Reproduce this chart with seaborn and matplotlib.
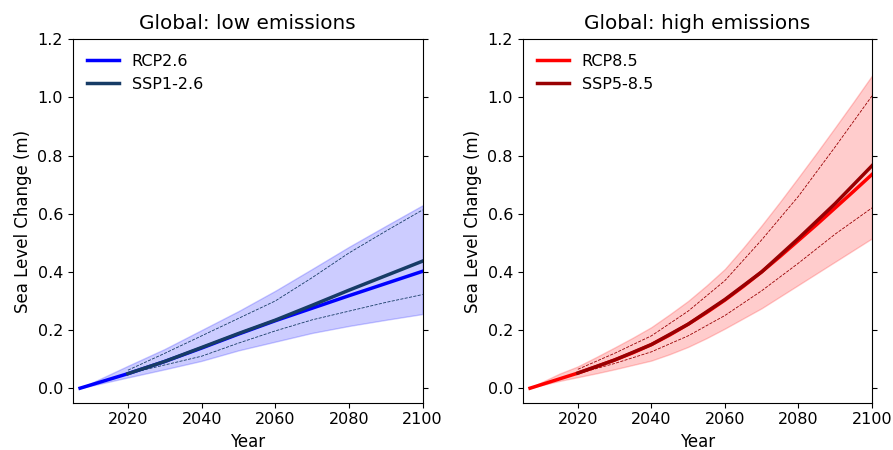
import matplotlib
matplotlib.use("Agg")
import matplotlib.pyplot as plt
import seaborn as sns
import pandas as pd

# ---- data ----
rcp26_years = [2007, 2020, 2030, 2040, 2050, 2060, 2070, 2080, 2090, 2100]
rcp85_years = [2007, 2010, 2015, 2020, 2025, 2030, 2035, 2040, 2045, 2050,
               2055, 2060, 2065, 2070, 2075, 2080, 2085, 2090, 2095, 2100]
ssp_years = [2020, 2030, 2040, 2050, 2060, 2070, 2080, 2090, 2100]

# low emissions
rcp26_med = [0.0, 0.050, 0.092, 0.138, 0.186, 0.232, 0.275, 0.318, 0.360, 0.402]
rcp26_lo = [0.0, 0.037, 0.065, 0.094, 0.130, 0.160, 0.190, 0.214, 0.235, 0.255]
rcp26_hi = [0.0, 0.077, 0.135, 0.200, 0.265, 0.335, 0.410, 0.486, 0.558, 0.629]
ssp126_med = [0.050, 0.092, 0.140, 0.188, 0.234, 0.285, 0.337, 0.387, 0.437]
ssp126_lo = [0.050, 0.080, 0.110, 0.155, 0.197, 0.235, 0.265, 0.295, 0.322]
ssp126_hi = [0.062, 0.120, 0.180, 0.240, 0.300, 0.380, 0.465, 0.540, 0.613]

# high emissions
rcp85_med = [0.0, 0.012, 0.032, 0.052, 0.074, 0.097, 0.122, 0.150, 0.183, 0.220,
             0.260, 0.303, 0.350, 0.400, 0.453, 0.508, 0.563, 0.620, 0.677, 0.735]
rcp85_lo = [0.0, 0.010, 0.025, 0.038, 0.051, 0.065, 0.080, 0.095, 0.117, 0.142,
            0.172, 0.205, 0.240, 0.275, 0.315, 0.355, 0.395, 0.435, 0.475, 0.515]
rcp85_hi = [0.0, 0.020, 0.050, 0.075, 0.107, 0.140, 0.174, 0.210, 0.254, 0.300,
            0.353, 0.410, 0.483, 0.560, 0.641, 0.725, 0.810, 0.897, 0.985, 1.075]
ssp585_med = [0.052, 0.097, 0.150, 0.220, 0.305, 0.400, 0.515, 0.635, 0.765]
ssp585_lo = [0.050, 0.085, 0.125, 0.180, 0.250, 0.335, 0.430, 0.530, 0.620]
ssp585_hi = [0.065, 0.120, 0.180, 0.265, 0.370, 0.510, 0.660, 0.830, 1.005]

titles = ["Global: low emissions", "Global: high emissions"]
rcp_labels = ["RCP2.6", "RCP8.5"]
ssp_labels = ["SSP1-2.6", "SSP5-8.5"]
x_ticks = [2020, 2040, 2060, 2080, 2100]
y_ticks = [0.0, 0.2, 0.4, 0.6, 0.8, 1.0, 1.2]

panels = [
    dict(rcp_years=rcp26_years, rcp_med=rcp26_med, rcp_lo=rcp26_lo, rcp_hi=rcp26_hi,
         ssp_med=ssp126_med, ssp_lo=ssp126_lo, ssp_hi=ssp126_hi,
         rcp_color="#0000ff", ssp_color="#173c66"),
    dict(rcp_years=rcp85_years, rcp_med=rcp85_med, rcp_lo=rcp85_lo, rcp_hi=rcp85_hi,
         ssp_med=ssp585_med, ssp_lo=ssp585_lo, ssp_hi=ssp585_hi,
         rcp_color="#ff0000", ssp_color="#990002"),
]

fig = plt.figure(figsize=(8.93, 4.5), dpi=100)
ax_rects = [[0.0814, 0.105, 0.3919, 0.808], [0.5853, 0.105, 0.3912, 0.808]]

for i, p in enumerate(panels):
    ax = fig.add_axes(ax_rects[i])
    rcp_df = pd.DataFrame({"Year": p["rcp_years"], "med": p["rcp_med"],
                           "lo": p["rcp_lo"], "hi": p["rcp_hi"]})
    ssp_df = pd.DataFrame({"Year": ssp_years, "med": p["ssp_med"],
                           "lo": p["ssp_lo"], "hi": p["ssp_hi"]})
    ax.fill_between(rcp_df["Year"], rcp_df["lo"], rcp_df["hi"],
                    color=p["rcp_color"], alpha=0.2, linewidth=1)
    sns.lineplot(data=rcp_df, x="Year", y="med", ax=ax, color=p["rcp_color"],
                 linewidth=2.5, label=rcp_labels[i])
    sns.lineplot(data=ssp_df, x="Year", y="med", ax=ax, color=p["ssp_color"],
                 linewidth=2.5, label=ssp_labels[i])
    sns.lineplot(data=ssp_df, x="Year", y="lo", ax=ax, color=p["ssp_color"],
                 linewidth=0.6, linestyle="--", dashes=(3, 2), legend=False)
    sns.lineplot(data=ssp_df, x="Year", y="hi", ax=ax, color=p["ssp_color"],
                 linewidth=0.6, linestyle="--", dashes=(3, 2), legend=False)
    ax.set_xlim(2005, 2100)
    ax.set_ylim(-0.05, 1.2)
    ax.set_xticks(x_ticks)
    ax.set_yticks(y_ticks)
    ax.set_yticklabels([f"{v:.1f}" for v in y_ticks])
    ax.tick_params(right=True, labelright=False, labelsize=11.5)
    ax.set_xlabel("Year", fontsize=12)
    ax.set_ylabel("Sea Level Change (m)", fontsize=12)
    ax.set_title(titles[i], fontsize=14.4, pad=7.5)
    leg = ax.legend(loc="upper left", frameon=False, fontsize=11.5)
    for line in leg.get_lines():
        line.set_linewidth(2.5)

fig.savefig("out.png", dpi=100)
